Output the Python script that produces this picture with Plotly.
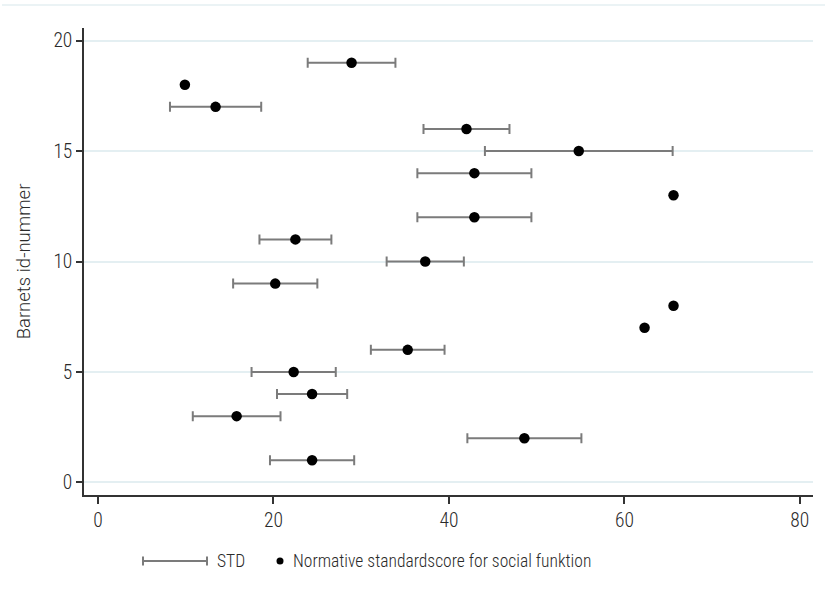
import plotly.graph_objects as go

# Child id, normative standard score for social function, and its standard deviation
child_id = [19, 18, 17, 16, 15, 14, 13, 12, 11, 10, 9, 8, 7, 6, 5, 4, 3, 2, 1]
score = [28.9, 9.9, 13.4, 42.0, 54.8, 42.9, 65.6, 42.9, 22.5, 37.3, 20.2,
         65.6, 62.3, 35.3, 22.3, 24.4, 15.8, 48.6, 24.4]
std = [5.0, None, 5.2, 4.9, 10.7, 6.5, None, 6.5, 4.1, 4.4, 4.8,
       None, None, 4.2, 4.8, 4.0, 5.0, 6.5, 4.8]

x_ticks = [0, 20, 40, 60, 80]
y_ticks = [0, 5, 10, 15, 20]

FONT = "Roboto Condensed, Liberation Sans Narrow, DejaVu Sans Condensed, sans-serif"
TITLE_FONT = "Roboto, Lato, Open Sans, sans-serif"
BAR_COLOR = "#7b7b7b"
GRID_COLOR = "#e4eff2"
TEXT_COLOR = "#2a2a2a"

W, H = 825, 606
ML, MR, MT, MB = 84, 12, 28, 111
PW, PH = W - ML - MR, H - MT - MB


def px(x):
    return (x - ML) / PW


def py(y):
    return (H - MB - y) / PH


# rows that carry a standard deviation
sd_ids = [i for i, s in zip(child_id, std) if s is not None]
sd_scores = [m for m, s in zip(score, std) if s is not None]
sd_vals = [s for s in std if s is not None]

fig = go.Figure()

fig.add_trace(go.Scatter(
    x=sd_scores, y=sd_ids, mode="markers",
    marker=dict(size=1, color="rgba(0,0,0,0)"),
    error_x=dict(type="data", array=sd_vals, symmetric=True,
                 color=BAR_COLOR, thickness=2, width=5),
    showlegend=False, hoverinfo="skip",
))

fig.add_trace(go.Scatter(
    x=score, y=child_id, mode="markers",
    marker=dict(size=10.5, color="black", symbol="circle"),
    showlegend=False,
))

shapes = []
# faint outer frame line along the top
shapes.append(dict(type="line", xref="paper", yref="paper",
                   x0=px(2), x1=px(825), y0=py(5), y1=py(5),
                   line=dict(color=GRID_COLOR, width=1.5)))

# legend: capped line for STD
ly = 561
shapes.append(dict(type="line", xref="paper", yref="paper",
                   x0=px(143), x1=px(207), y0=py(ly), y1=py(ly),
                   line=dict(color=BAR_COLOR, width=2)))
for cx in (143, 207):
    shapes.append(dict(type="line", xref="paper", yref="paper",
                       x0=px(cx), x1=px(cx), y0=py(ly - 4.5), y1=py(ly + 4.5),
                       line=dict(color=BAR_COLOR, width=2)))
# legend: dot for the score
shapes.append(dict(type="circle", xref="paper", yref="paper",
                   x0=px(276.5), x1=px(283.5), y0=py(ly - 3.5), y1=py(ly + 3.5),
                   fillcolor="black", line=dict(color="black", width=0)))

legend_font = dict(family=FONT, size=17.5, color=TEXT_COLOR, weight=300)
annotations = [
    dict(text="STD", xref="paper", yref="paper", x=px(215), y=py(ly),
         xanchor="left", yanchor="middle", showarrow=False, font=legend_font),
    dict(text="Normative standardscore for social funktion", xref="paper", yref="paper",
         x=px(291), y=py(ly), xanchor="left", yanchor="middle", showarrow=False,
         font=legend_font),
]

tick_font = dict(family=FONT, size=19.5, color=TEXT_COLOR, weight=300)

fig.update_layout(
    width=W, height=H,
    margin=dict(l=ML, r=MR, t=MT, b=MB),
    paper_bgcolor="white", plot_bgcolor="white",
    font=dict(family=FONT, size=18, color=TEXT_COLOR),
    shapes=shapes, annotations=annotations,
    showlegend=False,
)

fig.update_xaxes(
    range=[-1.6, 81.5], tickvals=x_ticks, ticktext=[str(v) for v in x_ticks],
    showgrid=False, zeroline=False,
    showline=True, linecolor="#333333", linewidth=1.5,
    ticks="outside", ticklen=7, tickwidth=1.5, tickcolor="#333333",
    tickfont=tick_font,
)
fig.update_yaxes(
    range=[-0.57, 20.57], tickvals=y_ticks, ticktext=[str(v) for v in y_ticks],
    showgrid=True, gridcolor=GRID_COLOR, gridwidth=1.5, zeroline=False,
    showline=True, linecolor="#333333", linewidth=1.5,
    ticks="outside", ticklen=6, tickwidth=1.5, tickcolor="#333333",
    tickfont=tick_font,
    title=dict(text="Barnets id-nummer", standoff=18,
               font=dict(family=TITLE_FONT, size=18.5, color=TEXT_COLOR, weight=300)),
)

fig.write_html("out.html")
